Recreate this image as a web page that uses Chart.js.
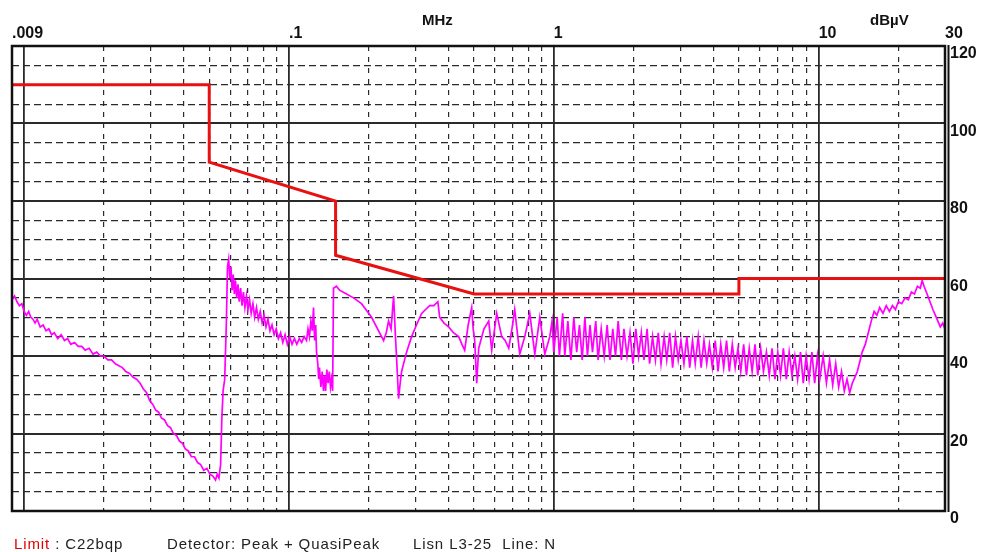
<!DOCTYPE html>
<html>
<head>
<meta charset="utf-8">
<script src="https://cdn.jsdelivr.net/npm/chart.js@4.4.1/dist/chart.umd.min.js"></script>
<style>
  body { margin: 0; background: #fff; }
  #wrap { position: relative; width: 984px; height: 552px; }
  canvas { position: absolute; left: 0; top: 0; }
  .txt { position: absolute; font-family: "Liberation Sans", Arial, sans-serif; white-space: nowrap; color: #222; }
  .head { font-weight: bold; font-size: 15px; color: #111; }
  .foot { font-size: 15px; top: 535px; letter-spacing: 0.9px; }
</style>
</head>
<body>
<div id="wrap">
  <canvas id="emiChart" width="984" height="552"></canvas>
  <div class="txt head" style="left:422px; top:11px;">MHz</div>
  <div class="txt head" style="left:870px; top:11px;">dBµV</div>
  <div class="txt foot" style="left:14px;"><span style="color:#e00000">Limit</span> : C22bqp</div>
  <div class="txt foot" style="left:167px;">Detector: Peak + QuasiPeak</div>
  <div class="txt foot" style="left:413px;">Lisn L3-25&nbsp; Line: N</div>
</div>
<script>
(function () {
    "use strict";

    // axis ticks
    var xLabelValues = [0.009, 0.1, 1, 10, 30];
    var xLabelText = ['.009', '.1', '1', '10', '30'];
    var xDecades = [0.01, 0.1, 1, 10];
    var xMinor = [0.02, 0.03, 0.04, 0.05, 0.06, 0.07, 0.08, 0.09,
                  0.2, 0.3, 0.4, 0.5, 0.6, 0.7, 0.8, 0.9,
                  2, 3, 4, 5, 6, 7, 8, 9, 20];
    var yTickValues = [0, 5, 10, 15, 20, 25, 30, 35, 40, 45, 50, 55, 60,
                       65, 70, 75, 80, 85, 90, 95, 100, 105, 110, 115, 120];
    var yLabelled = [0, 20, 40, 60, 80, 100, 120];

    // limit line C22bqp (MHz, dBµV)
    var limitFreq = [0.009, 0.05, 0.05, 0.15, 0.15, 0.5, 5, 5, 30];
    var limitLevel = [110, 110, 90, 80, 66, 56, 56, 60, 60];

    // measured sweep [MHz, dBµV]
    var sweepBelow60k = [
        [0.0090,54.5],[0.0092,55.5],[0.0094,54],[0.0096,53],[0.0098,53.5],[0.0100,51.5],[0.0102,50.5],
        [0.0104,51.5],[0.0106,50],[0.0108,49.5],[0.0110,48.5],[0.0112,49.5],[0.0115,47.5],[0.0118,48],
        [0.0121,46.5],[0.0124,47],[0.0127,45.5],[0.0130,46],[0.0134,44.5],[0.0138,45.5],[0.0142,44],
        [0.0146,44.5],[0.0150,43],[0.0155,43.5],[0.0160,42.5],[0.0165,42.5],[0.0170,41.5],[0.0176,42],
        [0.0182,40.5],[0.0188,41],[0.0194,40],[0.0200,40],[0.0207,39],[0.0214,39],[0.0221,38],
        [0.0228,37.5],[0.0235,37],[0.0242,36],[0.0250,35.5],[0.0258,34.5],[0.0266,34],[0.0274,33],
        [0.0282,31.5],[0.0290,30.5],[0.0298,28.5],[0.0306,27.5],[0.0314,26],[0.0322,25.5],[0.0330,24],
        [0.0339,23.5],[0.0348,22],[0.0357,21.5],[0.0366,20],[0.0376,19.5],[0.0386,18],[0.0396,17.5],
        [0.0406,16],[0.0417,15.5],[0.0428,14],[0.0440,14],[0.0452,12.5],[0.0464,12],[0.0477,10.5],
        [0.0490,11],[0.0503,9.5],[0.0516,9],[0.0528,8],[0.0536,9.5],[0.0544,8.5],[0.0552,12],
        [0.0558,24],[0.0564,31],[0.0572,34],[0.0580,48],[0.0586,63],[0.0592,65]
    ];
    var sweep60kTo150k = [
        [0.0598,60],[0.0604,63],[0.0610,57],[0.0616,61],[0.0622,56],[0.0628,59.5],[0.0635,55],
        [0.0642,58.5],[0.0649,54],[0.0657,57.5],[0.0665,53],[0.0673,56.5],[0.0682,52.5],[0.0691,55.5],
        [0.0700,52],[0.0710,54.5],[0.0720,51],[0.0731,53.5],[0.0742,50],[0.0754,52.5],[0.0766,49.5],
        [0.0779,51.5],[0.0792,48.5],[0.0805,50.5],[0.0819,47.5],[0.0833,49.5],[0.0848,46.5],[0.0863,48],
        [0.0879,45.5],[0.0895,47],[0.0912,44.5],[0.0930,46],[0.0948,43.5],[0.0967,45.5],[0.0986,43],
        [0.1006,45],[0.1027,43],[0.1049,44.5],[0.1071,43],[0.1094,44.5],[0.1117,43.5],[0.1141,45],
        [0.1165,44],[0.1180,47],[0.1195,45],[0.1210,49],[0.1225,46.5],[0.1238,52.5],[0.1250,44],
        [0.1262,48],[0.1271,41],[0.1285,38],[0.1295,34],[0.1304,37],[0.1320,32],[0.1335,36],
        [0.1350,31],[0.1362,35],[0.1375,31],[0.1390,36.5],[0.1405,33],[0.1420,36],[0.1435,32],
        [0.1448,34],[0.1462,31]
    ];
    var sweep150kTo1M = [
        [0.1473,57.5],[0.1510,58],[0.1552,57],[0.1650,56],[0.1753,55],[0.1879,53.5],[0.2051,50],
        [0.2160,47],[0.2277,44],[0.2330,46],[0.2377,49],[0.2430,47],[0.2484,55.5],[0.2520,46],
        [0.2549,39.5],[0.2594,29],[0.2630,33],[0.2663,36],[0.2780,41],[0.2905,45],[0.3030,48],
        [0.3170,51],[0.3280,52],[0.3398,53],[0.3520,53],[0.3650,54],[0.3707,50],[0.3850,48.5],
        [0.4009,47.5],[0.4180,46],[0.4373,45],[0.4500,43],[0.4608,41.5],[0.4750,48],[0.4898,52.5],
        [0.4960,47],[0.5027,44],[0.5116,33],[0.5206,42],[0.5450,47],[0.5679,49],[0.5829,41.5],
        [0.6088,51],[0.6358,45],[0.6550,44],[0.6759,42],[0.6950,47],[0.7120,52],[0.7437,40.5],
        [0.7770,45],[0.8115,51],[0.8477,40.5],[0.8854,50],[0.9247,40.5],[0.9658,45],[0.9850,49]
    ];
    var sweep1MTo30M = [
        [1.00,41],[1.03,50],[1.05,40],[1.08,51],[1.10,40],[1.13,49],[1.16,39],[1.19,50],[1.22,41],
        [1.25,48],[1.28,39],[1.31,50],[1.34,40],[1.37,48],[1.40,41],[1.44,49],[1.47,39],[1.51,47],
        [1.55,40],[1.59,48],[1.63,39],[1.67,47],[1.71,40],[1.75,49],[1.80,39],[1.84,47],[1.89,40],
        [1.94,46],[1.99,38],[2.04,47],[2.09,40],[2.14,46],[2.19,39],[2.25,47],[2.30,38],[2.36,45],
        [2.42,39],[2.48,46],[2.54,38],[2.61,45],[2.67,39],[2.74,46],[2.81,37],[2.88,45],[2.95,39],
        [3.02,44],[3.10,38],[3.18,45],[3.26,37],[3.34,44],[3.42,38],[3.51,45],[3.60,37],[3.69,44],
        [3.78,38],[3.87,43],[3.97,37],[4.07,44],[4.17,36],[4.27,43],[4.38,37],[4.49,44],[4.60,36],
        [4.72,43],[4.84,37],[4.96,42],[5.08,36],[5.21,43],[5.34,35],[5.47,42],[5.61,36],[5.75,43],
        [5.89,35],[6.04,42],[6.19,36],[6.35,41],[6.51,35],[6.67,42],[6.84,34],[7.01,41],[7.18,35],
        [7.36,42],[7.55,34],[7.74,41],[7.93,35],[8.13,40],[8.33,34],[8.54,41],[8.75,33],[8.97,40],
        [9.20,34],[9.43,41],[9.66,33],[9.90,40],[10.1,34],[10.4,40],[10.7,33],[11.0,39],[11.3,32.5],
        [11.6,38],[11.9,32],[12.2,36],[12.5,31],[12.8,34],[13.1,30.5],[13.4,33],[13.7,34.5],[14.0,36],
        [14.3,38.5],[14.6,41],[15.0,43],[15.4,46],[15.8,49],[16.2,51.5],[16.6,50.5],[17.0,52.5],
        [17.5,51],[18.0,53],[18.5,51.5],[19.0,53],[19.5,52],[20.0,54],[20.6,53.5],[21.2,55],
        [21.8,54.5],[22.4,56.5],[23.0,56],[23.6,58],[24.2,57.5],[24.6,59.5],[25.0,58],[25.5,56.5],
        [26.0,55],[26.5,53.5],[27.0,52],[27.6,50.5],[28.2,49],[28.8,47.5],[29.4,48.5],[30.0,47]
    ];

    var sweep = sweepBelow60k.concat(sweep60kTo150k, sweep150kTo1M, sweep1MTo30M)
        .map(function (p) { return { x: p[0], y: p[1] }; });
    var limit = limitFreq.map(function (f, i) { return { x: f, y: limitLevel[i] }; });

    var xAll = xLabelValues.concat(xDecades, xMinor).sort(function (a, b) { return a - b; })
        .filter(function (v, i, arr) { return i === 0 || v !== arr[i - 1]; });

    function isDecade(v) { return xDecades.indexOf(v) >= 0; }

    // outer frame, with the doubled right edge
    var framePlugin = {
        id: 'frame',
        afterDraw: function (chart) {
            var a = chart.chartArea, c = chart.ctx;
            c.save();
            c.strokeStyle = '#111';
            c.lineWidth = 2.5;
            c.strokeRect(a.left, a.top, a.right - a.left, a.bottom - a.top);
            c.lineWidth = 2;
            c.beginPath();
            c.moveTo(a.right + 3.5, a.top - 1);
            c.lineTo(a.right + 3.5, a.bottom + 1);
            c.stroke();
            c.restore();
        }
    };

    var tickFont = { family: "'Liberation Sans', Arial, sans-serif", size: 16, weight: 'bold' };

    new Chart(document.getElementById('emiChart'), {
        type: 'line',
        data: {
            datasets: [
                {
                    label: 'Limit',
                    data: limit,
                    borderColor: 'rgb(232,16,16)',
                    borderWidth: 3,
                    pointRadius: 0,
                    tension: 0
                },
                {
                    label: 'Peak',
                    data: sweep,
                    borderColor: 'rgb(255,0,255)',
                    borderWidth: 1.7,
                    pointRadius: 0,
                    tension: 0
                }
            ]
        },
        options: {
            responsive: false,
            animation: false,
            devicePixelRatio: 1,
            layout: { padding: { left: 12, right: 3, top: 0, bottom: 41 } },
            plugins: { legend: { display: false }, tooltip: { enabled: false } },
            scales: {
                x: {
                    type: 'logarithmic',
                    position: 'top',
                    min: 0.009,
                    max: 30,
                    afterBuildTicks: function (scale) {
                        scale.ticks = xAll.map(function (v) { return { value: v }; });
                    },
                    afterFit: function (scale) { scale.height = 46; },
                    ticks: {
                        autoSkip: false,
                        maxRotation: 0,
                        align: 'start',
                        padding: 3,
                        color: '#111',
                        font: tickFont,
                        callback: function (v) {
                            var i = xLabelValues.indexOf(v);
                            return i >= 0 ? xLabelText[i] : '';
                        }
                    },
                    grid: {
                        drawTicks: false,
                        color: '#2a2a2a',
                        lineWidth: function (ctx) { return isDecade(ctx.tick.value) ? 1.8 : 1.2; }
                    },
                    border: {
                        display: false,
                        dash: function (ctx) { return isDecade(ctx.tick.value) ? [] : [5, 6]; }
                    }
                },
                y: {
                    position: 'right',
                    min: 0,
                    max: 120,
                    afterBuildTicks: function (scale) {
                        scale.ticks = yTickValues.map(function (v) { return { value: v }; });
                    },
                    afterFit: function (scale) { scale.width = 36; },
                    ticks: {
                        autoSkip: false,
                        padding: 5,
                        labelOffset: 8,
                        color: '#111',
                        font: tickFont,
                        callback: function (v) {
                            return yLabelled.indexOf(v) >= 0 ? String(v) : '';
                        }
                    },
                    grid: {
                        drawTicks: false,
                        color: '#2a2a2a',
                        lineWidth: function (ctx) { return ctx.tick.value % 20 === 0 ? 2 : 1.2; }
                    },
                    border: {
                        display: false,
                        dash: function (ctx) { return ctx.tick.value % 20 === 0 ? [] : [7, 4]; }
                    }
                }
            }
        },
        plugins: [framePlugin]
    });
})();
</script>
</body>
</html>
